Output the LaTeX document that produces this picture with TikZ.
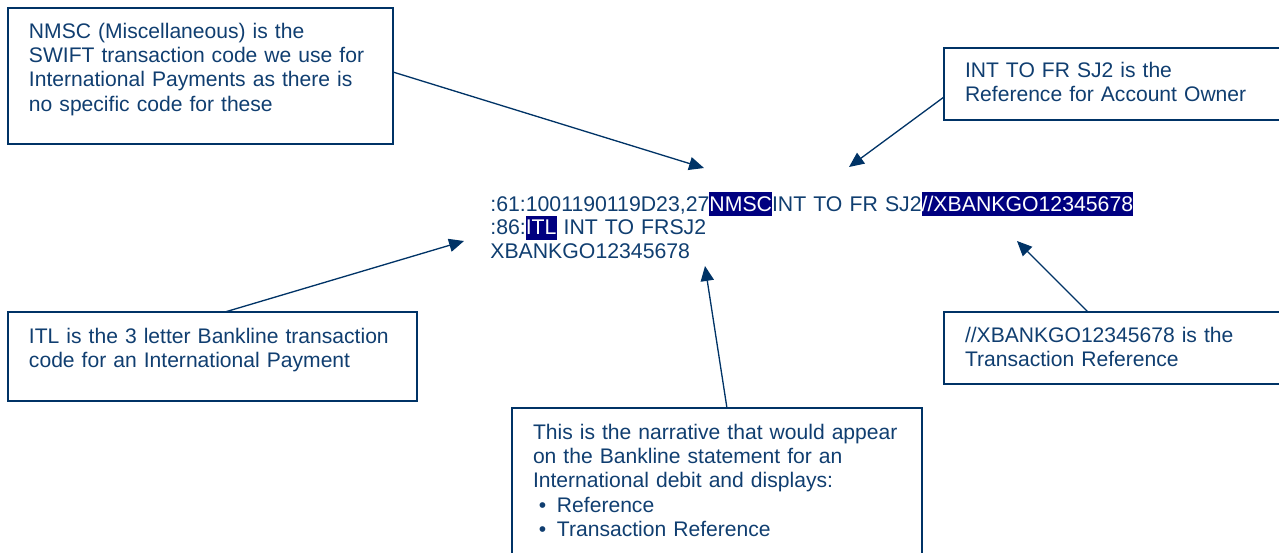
\documentclass[tikz,border=0pt]{standalone}
\usepackage{fontspec}
\setmainfont{Liberation Sans}
\usepackage{tikz}
\usetikzlibrary{arrows.meta,positioning}
\definecolor{boxblue}{RGB}{0,51,102}
\definecolor{textblue}{RGB}{16,62,112}
\definecolor{hlnavy}{RGB}{0,0,128}
\tikzstyle{pointer} = [line width=0.75pt, draw=boxblue, -{Triangle[length=8.5pt,width=7.5pt]}]
\tikzset{
 note/.style
  = {rectangle, draw=boxblue, line width=1.1pt, anchor=north west, align=left,
     inner xsep=0.42cm, inner ysep=0pt, outer sep=0pt, text=textblue,
     font=\fontsize{12}{13.9}\selectfont},
 code/.style
  = {anchor=base west, align=left, inner sep=0pt, text width=14cm, text=textblue,
     font=\fontsize{12.1}{13.6}\selectfont},
}
\newcommand{\swiftmark}[1]{{\setlength{\fboxsep}{0pt}\colorbox{hlnavy}{\rule[-2.8pt]{0pt}{13.6pt}\textcolor{white}{#1}}}}
\newcommand{\listdot}{\makebox[0.48cm][l]{\hspace{0.12cm}\textbullet}}

\begin{document}
\begin{tikzpicture}[x=0.02cm, y=-0.02cm]
\useasboundingbox (0,0) rectangle (1279,552);

% SWIFT statement lines
\node[code] (swift) at (490,211) {:61:1001190119D23,27\swiftmark{NMSC}INT TO FR SJ2\swiftmark{//XBANKGO12345678}\\
:86:\swiftmark{ITL} INT TO FRSJ2\\
XBANKGO12345678};

% NMSC note
\node[note, text width=6.86cm, text height=0.6cm, text depth=2.12cm] (nmsc) at (8,8)
  {NMSC (Miscellaneous) is the\\ SWIFT transaction code we use for\\ International Payments as there is\\ no specific code for these};

% Reference note
\node[note, text width=6.06cm, text height=0.58cm, text depth=0.86cm] (ref) at (944,48)
  {INT TO FR SJ2 is the\\ Reference for Account Owner};

% ITL note
\node[note, text width=7.34cm, text height=0.62cm, text depth=1.16cm] (itl) at (8,312)
  {ITL is the 3 letter Bankline transaction\\ code for an International Payment};

% Transaction reference note
\node[note, text width=6.06cm, text height=0.6cm, text depth=0.84cm] (trx) at (944,312)
  {//XBANKGO12345678 is the\\ Transaction Reference};

% Narrative note
\node[note, text width=7.36cm, text height=0.62cm, text depth=2.52cm] (narr) at (512,408)
  {This is the narrative that would appear\\ on the Bankline statement for an\\ International debit and displays:\\
   \listdot Reference\\ \listdot Transaction Reference};

% Arrow tips
\coordinate (nmsc tip) at (704,168);
\coordinate (ref tip) at (849,167);
\coordinate (itl tip) at (464,241);
\coordinate (narr tip) at (705,266);
\coordinate (trx tip) at (1017,241);

% Pointers
\draw[pointer] ([yshift=0.08cm]nmsc.east) -- (nmsc tip);
\draw[pointer] ([yshift=-0.26cm]ref.west) -- (ref tip);
\draw[pointer] ([xshift=0.25cm]itl.north) -- (itl tip);
\draw[pointer] ([xshift=0.2cm]narr.north) -- (narr tip);
\draw[pointer] ([xshift=2.88cm]trx.north west) -- (trx tip);

\end{tikzpicture}
\end{document}
